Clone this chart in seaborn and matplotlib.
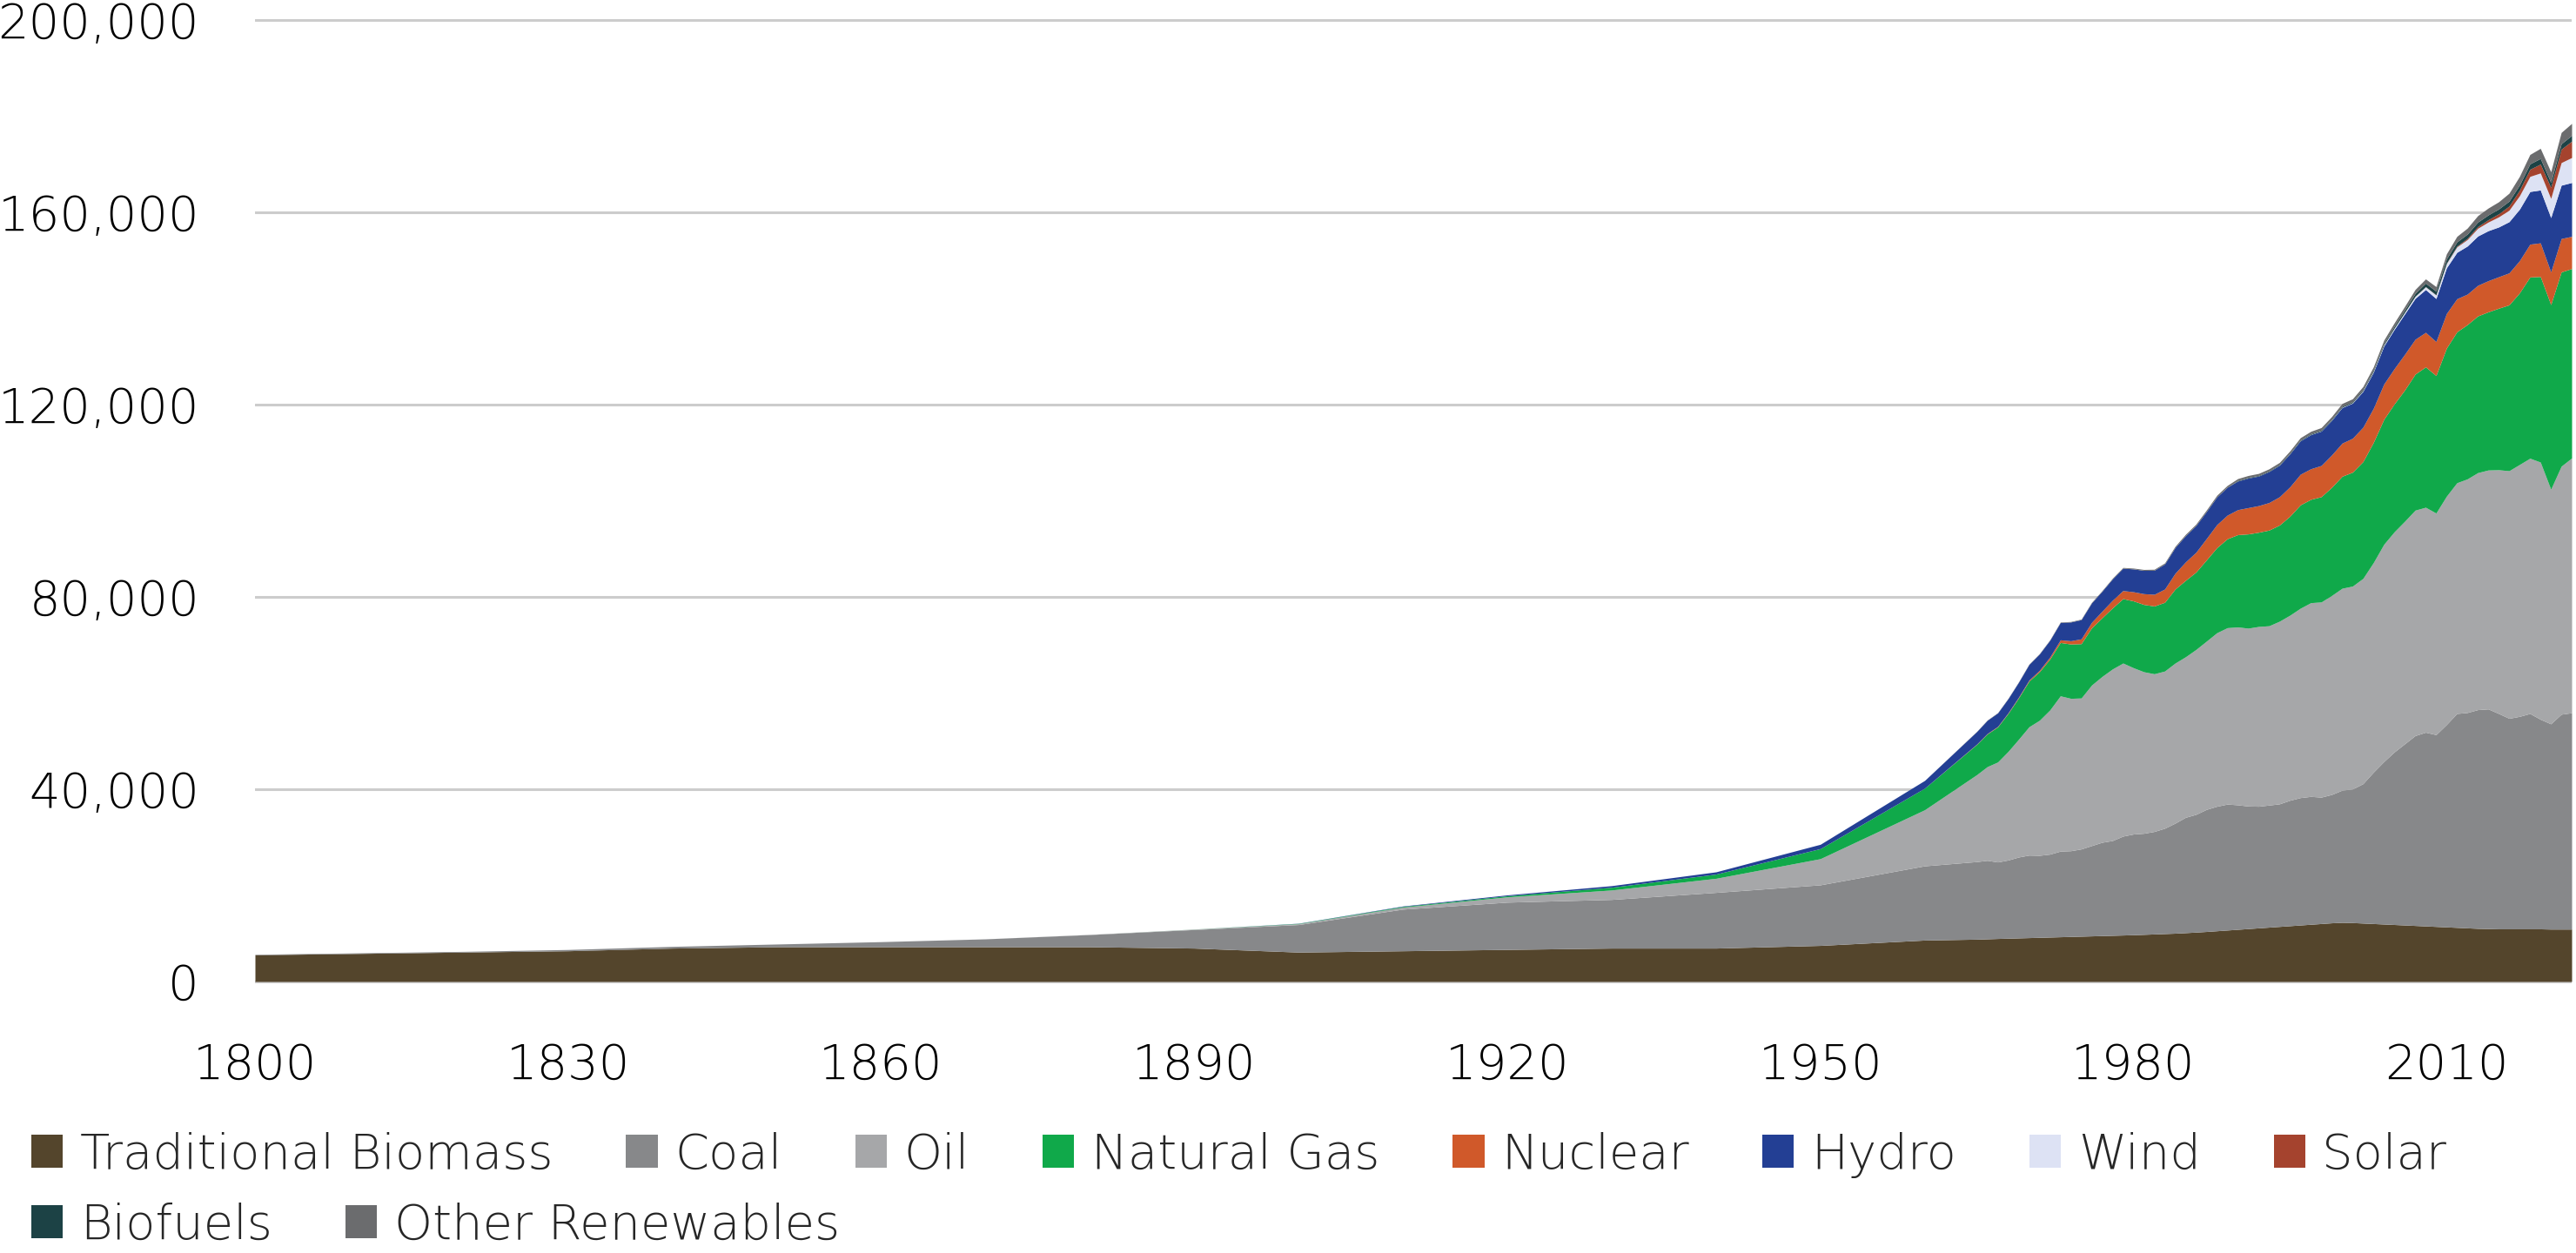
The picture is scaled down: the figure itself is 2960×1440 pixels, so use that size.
import pandas as pd
import seaborn as sns
import matplotlib.pyplot as plt
from matplotlib.patches import Patch
from matplotlib.ticker import FuncFormatter

# years: decadal to 1960, then annual
years = [1800, 1810, 1820, 1830, 1840, 1850, 1860, 1870, 1880, 1890,
         1900, 1910, 1920, 1930, 1940, 1950, 1960] + list(range(1965, 2023))

# primary energy by source (TWh)
biomass = [5556, 5833, 6111, 6389, 6944, 7222, 7222, 7222, 7222, 6944,
           6111, 6389, 6667, 6944, 6944, 7500, 8611,
           8800, 8870, 8940, 9000, 9060, 9120, 9180, 9240, 9300, 9360,
           9420, 9480, 9540, 9600, 9660, 9720, 9800, 9880, 9960, 10040,
           10150, 10270, 10400, 10550, 10700, 10850, 11000, 11150, 11300, 11450,
           11600, 11750, 11900, 12050, 12200, 12300, 12250, 12150, 12050, 11950,
           11850, 11750, 11650, 11550, 11450, 11350, 11250, 11150, 11050, 11000,
           10950, 10950, 10950, 10950, 10950, 10900, 10900, 10900]
coal = [97, 128, 153, 264, 356, 569, 1061, 1642, 2542, 3856,
        5728, 8656, 9833, 10125, 11586, 12603, 15442,
        16140, 16330, 15920, 16270, 16830, 17170, 17060, 17250, 17820, 17840,
        18150, 18790, 19420, 19720, 20580, 20950, 21030, 21330, 21920, 22900,
        24000, 24500, 25400, 25900, 26200, 25900, 25500, 25300, 25400, 25500,
        26100, 26500, 26600, 26300, 26700, 27500, 27800, 29000, 31500, 33800,
        35900, 37700, 39500, 40300, 39900, 42100, 44500, 44800, 45500, 45700,
        44800, 43800, 44200, 44800, 43600, 42700, 44700, 45000]
oil = [0, 0, 0, 0, 0, 0, 0, 6, 33, 89,
       181, 426, 1097, 1958, 2931, 5444, 11672,
       18100, 19500, 20800, 22600, 24500, 26700, 28100, 30000, 32300, 31700,
       31400, 33400, 34500, 35700, 36000, 34600, 33600, 32800, 32700, 33300,
       33400, 34300, 35000, 36100, 36700, 37000, 37000, 37400, 37300, 38000,
       38500, 39400, 40300, 40600, 41400, 42000, 42200, 42700, 43600, 45200,
       45800, 46300, 46900, 46800, 46100, 47500, 48000, 48600, 49300, 49700,
       50700, 51500, 52400, 53100, 53500, 48800, 51600, 53000]
gas = [0, 0, 0, 0, 0, 0, 0, 0, 0, 12,
       64, 142, 233, 575, 875, 2092, 4500,
       6300, 6800, 7300, 7900, 8600, 9500, 10100, 10600, 11100, 11300,
       11300, 11900, 12200, 12700, 13400, 13900, 14000, 14100, 14300, 15400,
       15900, 16100, 16900, 17700, 18500, 19200, 19600, 19600, 19900, 20000,
       20600, 21500, 21500, 21900, 22500, 23300, 23700, 24300, 25000, 26000,
       26600, 27300, 28300, 29200, 28600, 30800, 31400, 32100, 32600, 32900,
       33600, 34500, 35700, 37700, 38600, 38400, 40400, 39400]
nuclear = [0] * 17 + [
    70, 90, 110, 140, 170, 220, 300, 410, 550, 680,
    1000, 1150, 1380, 1600, 1680, 1900, 2240, 2430, 2760, 3290,
    3840, 4130, 4450, 4800, 4920, 5200, 5470, 5540, 5730, 5890,
    6110, 6370, 6360, 6490, 6730, 6890, 7060, 7160, 7100, 7340,
    7350, 7430, 7250, 7190, 7070, 7200, 6880, 6340, 6370, 6480,
    6550, 6650, 6700, 6830, 7000, 6800, 6950, 6700]
hydro = [0, 0, 0, 0, 0, 0, 0, 0, 0, 0,
         35, 90, 180, 330, 470, 900, 1600,
         2600, 2750, 2800, 2950, 3100, 3250, 3400, 3500, 3600, 3900,
         4000, 4050, 4150, 4450, 4650, 4750, 4850, 5000, 5200, 5350,
         5450, 5550, 5600, 5750, 5800, 5950, 6150, 6150, 6450, 6550,
         6850, 6950, 7100, 7150, 7200, 7400, 7300, 7450, 7500, 7900,
         8150, 8400, 8500, 8900, 8950, 9500, 9650, 10000, 10250, 10400,
         10350, 10650, 10700, 10950, 11000, 11300, 11100, 11200]
wind = [0] * 37 + [
    0, 0, 0, 5, 7, 10, 12, 14, 17, 21,
    25, 30, 38, 48, 60, 80, 100, 140, 170, 220,
    270, 340, 440, 580, 730, 900, 1130, 1350, 1620, 1800,
    2100, 2400, 2800, 3150, 3540, 4000, 4700, 5200]
solar = [0] * 47 + [
    0, 0, 0, 0, 0, 3, 4, 5, 6, 8,
    11, 15, 20, 30, 50, 80, 160, 250, 350, 480,
    640, 850, 1160, 1480, 1850, 2280, 2800, 3400]
biofuels = [0] * 37 + [
    0, 0, 0, 0, 0, 120, 125, 125, 128, 132,
    140, 150, 160, 165, 175, 190, 200, 230, 270, 310,
    380, 460, 580, 720, 760, 870, 880, 880, 930, 1000,
    1000, 1030, 1070, 1130, 1170, 1050, 1120, 1200]
other = [0] * 17 + [
    50, 55, 60, 65, 70, 80, 85, 90, 100, 105,
    110, 120, 130, 140, 150, 170, 190, 210, 230, 260,
    290, 310, 330, 350, 370, 380, 400, 410, 420, 435,
    450, 470, 490, 520, 550, 580, 600, 630, 660, 690,
    710, 760, 820, 880, 940, 1050, 1150, 1250, 1350, 1430,
    1500, 1650, 1800, 1950, 2100, 2200, 2350, 2500]

sources = ['Traditional Biomass', 'Coal', 'Oil', 'Natural Gas', 'Nuclear',
           'Hydro', 'Wind', 'Solar', 'Biofuels', 'Other Renewables']
colors = ['#54452c', '#87888a', '#a6a7a9', '#10a94a', '#d0592a',
          '#233f94', '#dde2f4', '#a5432e', '#1c4245', '#6b6c6e']


def draw_chart(out_path):
    df = pd.DataFrame({
        'Traditional Biomass': biomass, 'Coal': coal, 'Oil': oil,
        'Natural Gas': gas, 'Nuclear': nuclear, 'Hydro': hydro,
        'Wind': wind, 'Solar': solar, 'Biofuels': biofuels,
        'Other Renewables': other,
    }, index=years)

    sns.set_style('white')
    plt.rcParams['font.family'] = ['DejaVu Sans']
    plt.rcParams['font.weight'] = 200
    fsize = 40.3

    fig = plt.figure(figsize=(29.6, 14.4), dpi=100)
    ax = fig.add_axes([293 / 2960, 1 - 1133.5 / 1440, 2662 / 2960, 1121.5 / 1440])

    ax.stackplot(df.index, *[df[s] for s in sources], colors=colors,
                 linewidth=0, zorder=2)

    ax.set_xlim(1800, 2022)
    ax.set_ylim(-1000, 202000)
    ax.set_xticks(range(1800, 2011, 30))
    ax.set_yticks(range(0, 200001, 40000))
    ax.yaxis.set_major_formatter(FuncFormatter(lambda v, p: f'{int(v):,}'))
    ax.tick_params(length=0, labelsize=fsize, pad=46, colors='#000000')
    ax.yaxis.grid(True, color='#cccccc', linewidth=2.2, zorder=0)
    ax.xaxis.grid(False)
    ax.set_axisbelow(True)
    sns.despine(ax=ax, left=True, bottom=True)

    handles = [Patch(facecolor=c, edgecolor='none', label=s)
               for s, c in zip(sources, colors)]
    leg_kw = dict(loc='center left', frameon=False, fontsize=fsize,
                  handlelength=0.65, handleheight=0.66, handletextpad=0.35,
                  columnspacing=1.5, borderpad=0, borderaxespad=0)
    fig.legend(handles=handles[:8], ncol=8,
               bbox_to_anchor=(36 / 2960, 1 - 1328 / 1440), **leg_kw)
    fig.legend(handles=handles[8:], ncol=2,
               bbox_to_anchor=(36 / 2960, 1 - 1409 / 1440), **leg_kw)

    fig.savefig(out_path, dpi=100)
    plt.close(fig)


if __name__ == "__main__":
    draw_chart('out.png')
